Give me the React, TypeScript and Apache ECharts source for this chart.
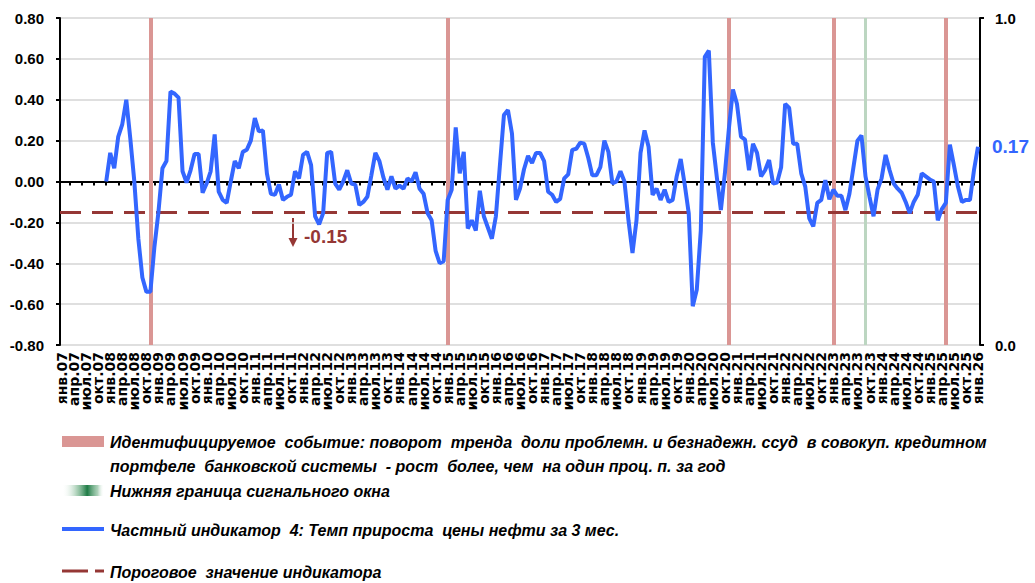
import React, { useEffect, useRef } from "react";
import * as echarts from "echarts";

const MONTH_NAMES = ["янв", "фев", "мар", "апр", "май", "июн", "июл", "авг", "сен", "окт", "ноя", "дек"];
const START_YEAR = 2007;
const MONTH_COUNT = 229; // янв.07 .. янв.26
const CATEGORIES: string[] = [];
for (let i = 0; i < MONTH_COUNT; i++) {
  const y = START_YEAR + Math.floor(i / 12);
  CATEGORIES.push(MONTH_NAMES[i % 12] + "." + String(y % 100).padStart(2, "0"));
}

// Частный индикатор 4: темп прироста цены нефти за 3 мес. (monthly)
const OIL_2007 = [null, null, null, null, null, null, null, null, null, null, null, 0.0];
const OIL_2008 = [0.14, 0.065, 0.22, 0.28, 0.4, 0.21, 0.0, -0.28, -0.47, -0.54, -0.54, -0.32];
const OIL_2009 = [-0.15, 0.065, 0.1, 0.44, 0.43, 0.41, 0.05, -0.005, 0.055, 0.135, 0.135, -0.055];
const OIL_2010 = [-0.01, 0.05, 0.23, -0.05, -0.09, -0.105, 0.0, 0.1, 0.065, 0.145, 0.155, 0.2];
const OIL_2011 = [0.31, 0.245, 0.25, 0.04, -0.06, -0.065, -0.015, -0.09, -0.075, -0.065, 0.05, 0.015];
const OIL_2012 = [0.13, 0.145, 0.08, -0.17, -0.21, -0.155, 0.14, 0.145, -0.01, -0.04, 0.0, 0.055];
const OIL_2013 = [-0.01, -0.015, -0.115, -0.1, -0.075, 0.03, 0.14, 0.1, 0.02, -0.04, 0.025, -0.035];
const OIL_2014 = [-0.02, -0.035, 0.015, 0.0, 0.045, -0.035, -0.06, -0.155, -0.19, -0.34, -0.4, -0.39];
const OIL_2015 = [-0.09, -0.04, 0.265, 0.04, 0.145, -0.23, -0.19, -0.24, -0.045, -0.17, -0.225, -0.28];
const OIL_2016 = [-0.17, 0.08, 0.325, 0.35, 0.235, -0.09, -0.035, 0.06, 0.125, 0.09, 0.14, 0.14];
const OIL_2017 = [0.1, -0.05, -0.065, -0.1, -0.085, 0.015, 0.035, 0.155, 0.16, 0.19, 0.185, 0.115];
const OIL_2018 = [0.03, 0.03, 0.07, 0.2, 0.145, -0.01, 0.0, 0.05, 0.0, -0.19, -0.35, -0.19];
const OIL_2019 = [0.14, 0.25, 0.17, -0.065, -0.035, -0.09, -0.04, -0.1, -0.09, 0.025, 0.11, -0.015];
const OIL_2020 = [-0.155, -0.61, -0.53, -0.24, 0.61, 0.64, 0.19, 0.02, -0.14, 0.04, 0.26, 0.45];
const OIL_2021 = [0.38, 0.22, 0.205, 0.055, 0.185, 0.14, 0.025, 0.055, 0.105, -0.01, -0.005, 0.07];
const OIL_2022 = [0.38, 0.36, 0.185, 0.185, 0.04, -0.025, -0.18, -0.22, -0.105, -0.09, 0.007, -0.087];
const OIL_2023 = [-0.04, -0.07, -0.07, -0.14, -0.06, 0.07, 0.2, 0.225, 0.025, -0.075, -0.17, -0.04];
const OIL_2024 = [0.015, 0.13, 0.055, -0.01, -0.035, -0.055, -0.1, -0.155, -0.1, -0.065, 0.04, 0.025];
const OIL_2025 = [0.01, 0.0, -0.19, -0.135, -0.105, 0.18, 0.08, -0.025, -0.1, -0.09, -0.09, 0.055];
const OIL_2026 = [0.17];
const OIL_VALUES: (number | null)[] = [
  ...OIL_2007, ...OIL_2008, ...OIL_2009, ...OIL_2010, ...OIL_2011, ...OIL_2012, ...OIL_2013,
  ...OIL_2014, ...OIL_2015, ...OIL_2016, ...OIL_2017, ...OIL_2018, ...OIL_2019, ...OIL_2020,
  ...OIL_2021, ...OIL_2022, ...OIL_2023, ...OIL_2024, ...OIL_2025, ...OIL_2026,
];

const THRESHOLD = -0.15;
const EVENT_MONTHS = ["ноя.08", "янв.15", "ноя.20", "янв.23", "май.25"];
const SIGNAL_WINDOW_MONTHS = ["сен.23"];

const Y_LEFT = { min: -0.8, max: 0.8, interval: 0.2 };
const Y_RIGHT = { min: 0, max: 1, interval: 1 };

const LEGEND_EVENT_1 = "Идентифицируемое  событие: поворот  тренда  доли проблемн. и безнадежн. ссуд  в совокуп. кредитном";
const LEGEND_EVENT_2 = "портфеле  банковской системы  - рост  более, чем  на один проц. п. за год";
const LEGEND_WINDOW = "Нижняя граница сигнального окна";
const LEGEND_SERIES = "Частный индикатор  4: Темп прироста  цены нефти за 3 мес.";
const LEGEND_THRESHOLD = "Пороговое  значение индикатора";

const FONT = "'Liberation Sans', Arial, sans-serif";
const WIDE_FONT = "'DejaVu Sans', 'Liberation Sans', Arial, sans-serif";
const BLUE = "#3366FF";
const PINK = "#DA9694";
const GREEN_LINE = "#BCD6C1";
const DARK_RED = "#953735";

export default function App() {
  const ref = useRef<HTMLDivElement>(null);
  useEffect(() => {
    if (!ref.current) return;
    const chart = echarts.init(ref.current, undefined, { renderer: "svg" });
    const legendText = (x: number, y: number, t: string) => ({
      type: "text",
      x,
      y,
      style: {
        text: t,
        font: `italic bold 16px ${FONT}`,
        fill: "#000",
        textVerticalAlign: "middle",
      },
    });
    chart.setOption({
      animation: false,
      backgroundColor: "#fff",
      grid: { left: 60, right: 55, top: 18, bottom: 238, containLabel: false },
      xAxis: [
        {
          type: "category",
          data: CATEGORIES,
          boundaryGap: true,
          position: "bottom",
          axisLine: { show: false },
          axisTick: { show: false },
          splitLine: { show: false },
          axisLabel: {
            interval: 0,
            formatter: (v: string, i: number) => (i % 3 === 0 ? v : ""),
            rotate: 90,
            margin: 7,
            color: "#000",
            fontWeight: "bold",
            fontSize: 14,
            fontFamily: WIDE_FONT,
          },
        },
        {
          type: "category",
          data: CATEGORIES,
          boundaryGap: true,
          position: "bottom",
          axisLine: { show: true, onZero: true, onZeroAxisIndex: 0, lineStyle: { color: "#000", width: 2 } },
          axisTick: {
            show: true,
            interval: (i: number) => i % 3 === 2,
            alignWithLabel: true,
            length: 4,
            lineStyle: { color: "#000", width: 2 },
          },
          axisLabel: { show: false },
          splitLine: { show: false },
        },
      ],
      yAxis: [
        {
          type: "value",
          min: Y_LEFT.min,
          max: Y_LEFT.max,
          interval: Y_LEFT.interval,
          axisLine: { show: true, lineStyle: { color: "#000", width: 2 } },
          axisTick: { show: true, length: 4, lineStyle: { color: "#000", width: 2 } },
          axisLabel: {
            formatter: (v: number) => v.toFixed(2),
            margin: 16,
            color: "#000",
            fontWeight: "bold",
            fontSize: 15,
            fontFamily: FONT,
          },
          splitLine: { show: true, lineStyle: { color: "#D4D4D4", width: 1.5 } },
        },
        {
          type: "value",
          position: "right",
          min: Y_RIGHT.min,
          max: Y_RIGHT.max,
          interval: Y_RIGHT.interval,
          axisLine: { show: true, lineStyle: { color: "#000", width: 2 } },
          axisTick: { show: true, length: 4, lineStyle: { color: "#000", width: 2 } },
          axisLabel: {
            formatter: (v: number) => v.toFixed(1),
            margin: 15,
            color: "#000",
            fontWeight: "bold",
            fontSize: 15,
            fontFamily: FONT,
          },
          splitLine: { show: false },
        },
      ],
      series: [
        {
          name: "events",
          type: "line",
          data: [],
          z: 1,
          markLine: {
            silent: true,
            symbol: "none",
            label: { show: false },
            lineStyle: { color: PINK, width: 4, type: "solid" },
            data: EVENT_MONTHS.map((m) => ({ xAxis: m })),
          },
        },
        {
          name: "window",
          type: "line",
          data: [],
          z: 1,
          markLine: {
            silent: true,
            symbol: "none",
            label: { show: false },
            lineStyle: { color: GREEN_LINE, width: 3, type: "solid" },
            data: SIGNAL_WINDOW_MONTHS.map((m) => ({ xAxis: m })),
          },
        },
        {
          name: "threshold",
          type: "line",
          data: [],
          z: 2,
          markLine: {
            silent: true,
            symbol: "none",
            label: { show: false },
            lineStyle: { color: DARK_RED, width: 3, type: [21, 11] },
            data: [{ yAxis: THRESHOLD }],
          },
        },
        {
          name: "oil",
          type: "line",
          data: OIL_VALUES,
          z: 5,
          symbol: "none",
          connectNulls: false,
          lineStyle: { color: BLUE, width: 4 },
          endLabel: {
            show: true,
            formatter: (p: any) => Number(p.value).toFixed(2),
            color: BLUE,
            fontWeight: "bold",
            fontSize: 19,
            fontFamily: FONT,
            distance: 14,
          },
        },
      ],
      graphic: [
        // threshold annotation
        { type: "line", shape: { x1: 293, y1: 218, x2: 293, y2: 240 }, style: { stroke: DARK_RED, lineWidth: 2 } },
        { type: "polygon", shape: { points: [[288.5, 238], [297.5, 238], [293, 247]] }, style: { fill: DARK_RED } },
        {
          type: "text",
          x: 304,
          y: 236,
          style: {
            text: String(THRESHOLD.toFixed(2)),
            font: `bold 19px ${FONT}`,
            fill: DARK_RED,
            textVerticalAlign: "middle",
          },
        },
        // legend
        { type: "rect", shape: { x: 62, y: 436, width: 42, height: 11 }, style: { fill: PINK } },
        legendText(110, 442, LEGEND_EVENT_1),
        legendText(110, 466, LEGEND_EVENT_2),
        {
          type: "rect",
          shape: { x: 62, y: 485, width: 42, height: 11 },
          style: {
            fill: new echarts.graphic.LinearGradient(0, 0, 1, 0, [
              { offset: 0, color: "rgba(255,255,255,0)" },
              { offset: 0.35, color: "rgba(120,180,140,0.6)" },
              { offset: 0.6, color: "#1E7B45" },
              { offset: 0.85, color: "rgba(120,180,140,0.6)" },
              { offset: 1, color: "rgba(255,255,255,0)" },
            ]),
          },
        },
        legendText(110, 491, LEGEND_WINDOW),
        { type: "line", shape: { x1: 62, y1: 529, x2: 104, y2: 529 }, style: { stroke: BLUE, lineWidth: 4 } },
        legendText(110, 530, LEGEND_SERIES),
        { type: "line", shape: { x1: 62, y1: 571, x2: 88, y2: 571 }, style: { stroke: DARK_RED, lineWidth: 3 } },
        { type: "line", shape: { x1: 95, y1: 571, x2: 104, y2: 571 }, style: { stroke: DARK_RED, lineWidth: 3 } },
        legendText(110, 572, LEGEND_THRESHOLD),
      ],
    });
    return () => chart.dispose();
  }, []);
  return (
    <div
      ref={ref}
      style={{ position: "absolute", left: 0, top: 0, width: 1035, height: 583, background: "#fff" }}
    />
  );
}
